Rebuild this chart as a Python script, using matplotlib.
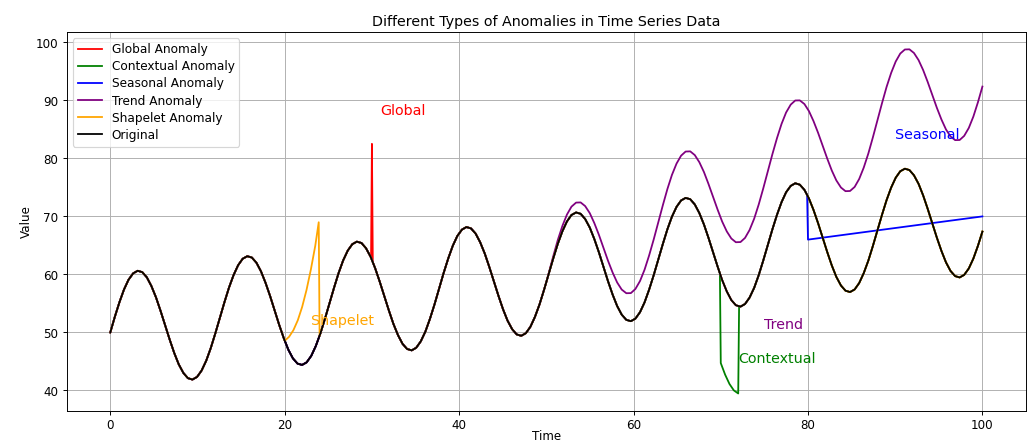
import numpy as np
import matplotlib
matplotlib.use("Agg")
import matplotlib.pyplot as plt

# Sample times of the series
time = np.array([
    0.00, 0.52, 1.05, 1.57, 2.09, 2.62, 3.14, 3.67, 4.19, 4.71, 5.24, 5.76, 6.28, 6.81, 7.33, 7.85, 8.38, 8.90, 9.42, 9.95, 10.47, 11.00, 11.52, 12.04,
    12.57, 13.09, 13.61, 14.14, 14.66, 15.18, 15.71, 16.23, 16.76, 17.28, 17.80, 18.33, 18.85, 19.37, 19.90, 20.42, 20.94, 21.47, 21.99, 22.51, 23.04, 23.56, 24.09, 24.61,
    25.13, 25.66, 26.18, 26.70, 27.23, 27.75, 28.27, 28.80, 29.32, 29.85, 30.37, 30.89, 31.42, 31.94, 32.46, 32.99, 33.51, 34.03, 34.56, 35.08, 35.60, 36.13, 36.65, 37.18,
    37.70, 38.22, 38.75, 39.27, 39.79, 40.32, 40.84, 41.36, 41.89, 42.41, 42.94, 43.46, 43.98, 44.51, 45.03, 45.55, 46.08, 46.60, 47.12, 47.65, 48.17, 48.69, 49.22, 49.74,
    50.27, 50.79, 51.31, 51.84, 52.36, 52.88, 53.41, 53.93, 54.45, 54.98, 55.50, 56.03, 56.55, 57.07, 57.60, 58.12, 58.64, 59.17, 59.69, 60.21, 60.74, 61.26, 61.78, 62.31,
    62.83, 63.36, 63.88, 64.40, 64.93, 65.45, 65.97, 66.50, 67.02, 67.54, 68.07, 68.59, 69.12, 69.64, 70.16, 70.69, 71.21, 71.73, 72.26, 72.78, 73.30, 73.83, 74.35, 74.87,
    75.40, 75.92, 76.45, 76.97, 77.49, 78.02, 78.54, 79.06, 79.59, 80.11, 80.63, 81.16, 81.68, 82.21, 82.73, 83.25, 83.78, 84.30, 84.82, 85.35, 85.87, 86.39, 86.92, 87.44,
    87.96, 88.49, 89.01, 89.54, 90.06, 90.58, 91.11, 91.63, 92.15, 92.68, 93.20, 93.72, 94.25, 94.77, 95.30, 95.82, 96.34, 96.87, 97.39, 97.91, 98.44, 98.96, 99.48, 100.00,
])

# Original series values
original = np.array([
    50.00, 52.69, 55.21, 57.39, 59.08, 60.18, 60.63, 60.39, 59.50, 58.01, 56.05, 53.74, 51.26, 48.77, 46.47, 44.50, 43.02, 42.12, 41.88, 42.33, 43.43, 45.13, 47.30, 49.82,
    52.51, 55.21, 57.72, 59.90, 61.59, 62.70, 63.14, 62.91, 62.01, 60.53, 58.56, 56.25, 53.77, 51.29, 48.98, 47.01, 45.53, 44.63, 44.40, 44.84, 45.95, 47.64, 49.82, 52.33,
    55.03, 57.72, 60.24, 62.41, 64.11, 65.21, 65.65, 65.42, 64.52, 63.04, 61.07, 58.77, 56.28, 53.80, 51.49, 49.53, 48.04, 47.15, 46.91, 47.36, 48.46, 50.15, 52.33, 54.85,
    57.54, 60.23, 62.75, 64.93, 66.62, 67.72, 68.17, 67.93, 67.04, 65.55, 63.59, 61.28, 58.80, 56.31, 54.01, 52.04, 50.56, 49.66, 49.42, 49.87, 50.97, 52.67, 54.84, 57.36,
    60.05, 62.75, 65.26, 67.44, 69.13, 70.24, 70.68, 70.45, 69.55, 68.07, 66.10, 63.79, 61.31, 58.83, 56.52, 54.55, 53.07, 52.17, 51.94, 52.38, 53.49, 55.18, 57.36, 59.87,
    62.57, 65.26, 67.78, 69.95, 71.65, 72.75, 73.19, 72.96, 72.06, 70.58, 68.61, 66.31, 63.82, 61.34, 59.03, 57.07, 55.58, 54.69, 54.45, 54.90, 56.00, 57.69, 59.87, 62.39,
    65.08, 67.77, 70.29, 72.46, 74.16, 75.26, 75.71, 75.47, 74.58, 73.09, 71.13, 68.82, 66.34, 63.85, 61.55, 59.58, 58.09, 57.20, 56.96, 57.41, 58.51, 60.21, 62.38, 64.90,
    67.59, 70.29, 72.80, 74.98, 76.67, 77.78, 78.22, 77.99, 77.09, 75.61, 73.64, 71.33, 68.85, 66.37, 64.06, 62.09, 60.61, 59.71, 59.48, 59.92, 61.03, 62.72, 64.90, 67.38,
])

# Trend anomaly: values after t = 50 (same sample times as the original)
trend_start_t = 50.0
trend_start_v = 58.68
trend_values = np.array([
    60.19, 63.14, 65.92, 68.36, 70.31, 71.68, 72.38, 72.41, 71.78, 70.56, 68.85, 66.81, 64.58, 62.36, 60.32, 58.61, 57.39, 56.76, 56.78, 57.49, 58.86, 60.81, 63.25, 66.03,
    68.98, 71.94, 74.72, 77.15, 79.11, 80.47, 81.18, 81.21, 80.57, 79.35, 77.65, 75.60, 73.38, 71.16, 69.11, 67.41, 66.19, 65.55, 65.58, 66.29, 67.65, 69.61, 72.05, 74.82,
    77.78, 80.73, 83.51, 85.95, 87.91, 89.27, 89.98, 90.00, 89.37, 88.15, 86.44, 84.40, 82.18, 79.96, 77.91, 76.21, 74.98, 74.35, 74.38, 75.08, 76.45, 78.40, 80.84, 83.62,
    86.58, 89.53, 92.31, 94.75, 96.70, 98.07, 98.77, 98.80, 98.17, 96.94, 95.24, 93.20, 90.97, 88.75, 86.71, 85.00, 83.78, 83.15, 83.17, 83.88, 85.25, 87.20, 89.64, 92.38,
])

# Global anomaly (spike)
global_t = [29.9, 30.0, 30.1]
global_v = [62.85, 82.5, 62.13]

# Contextual anomaly (drop between t=70 and t=72)
contextual_t = [69.9, 70.0, 70.5, 71.0, 71.5, 72.0, 72.1]
contextual_v = [60.16, 44.72, 42.72, 41.11, 40.01, 39.48, 54.45]

# Seasonal anomaly (seasonality removed after t=80)
seasonal_t = [79.9, 80.0, 100.0]
seasonal_v = [73.75, 66.0, 70.0]

# Shapelet anomaly (ramp between t=20 and t=24)
shapelet_t = [20.0, 20.5, 21.0, 21.5, 22.0, 22.5, 23.0, 23.5, 23.9, 24.0]
shapelet_v = [48.56, 49.25, 50.40, 52.10, 54.40, 57.32, 60.85, 64.91, 69.0, 49.43]


def spliced(t_lo, t_hi, seg_t, seg_v):
    before = time < t_lo
    after = time > t_hi
    x = np.concatenate([time[before], seg_t, time[after]])
    y = np.concatenate([original[before], seg_v, original[after]])
    return x, y


fig = plt.figure(figsize=(12, 5.18), dpi=85.75)
ax = fig.add_axes([0.0648, 0.075, 0.9323, 0.8523])

gx, gy = spliced(29.9, 30.1, global_t, global_v)
cx, cy = spliced(69.9, 72.1, contextual_t, contextual_v)
sx, sy = spliced(79.9, 100.0, seasonal_t, seasonal_v)
shx, shy = spliced(20.0, 24.0, shapelet_t, shapelet_v)
pre = time < trend_start_t
tx = np.concatenate([time[pre], [trend_start_t], time[time > trend_start_t]])
ty = np.concatenate([original[pre], [trend_start_v], trend_values])

ax.plot(gx, gy, color="red", label="Global Anomaly")
ax.plot(cx, cy, color="green", label="Contextual Anomaly")
ax.plot(sx, sy, color="blue", label="Seasonal Anomaly")
ax.plot(tx, ty, color="purple", label="Trend Anomaly")
ax.plot(shx, shy, color="orange", label="Shapelet Anomaly")
ax.plot(time, original, color="black", label="Original")

ax.text(31, 87.5, "Global", color="red", fontsize=12)
ax.text(23, 51.3, "Shapelet", color="orange", fontsize=12)
ax.text(72, 44.7, "Contextual", color="green", fontsize=12)
ax.text(75, 50.6, "Trend", color="purple", fontsize=12)
ax.text(90, 83.3, "Seasonal", color="blue", fontsize=12)

ax.set_title("Different Types of Anomalies in Time Series Data", pad=5)
ax.set_xlabel("Time", labelpad=-2)
ax.set_ylabel("Value", labelpad=2)
ax.legend(loc="upper left", labelspacing=0.34, fontsize=10.2)
ax.grid(True)

fig.savefig("out.png", dpi=85.75)
